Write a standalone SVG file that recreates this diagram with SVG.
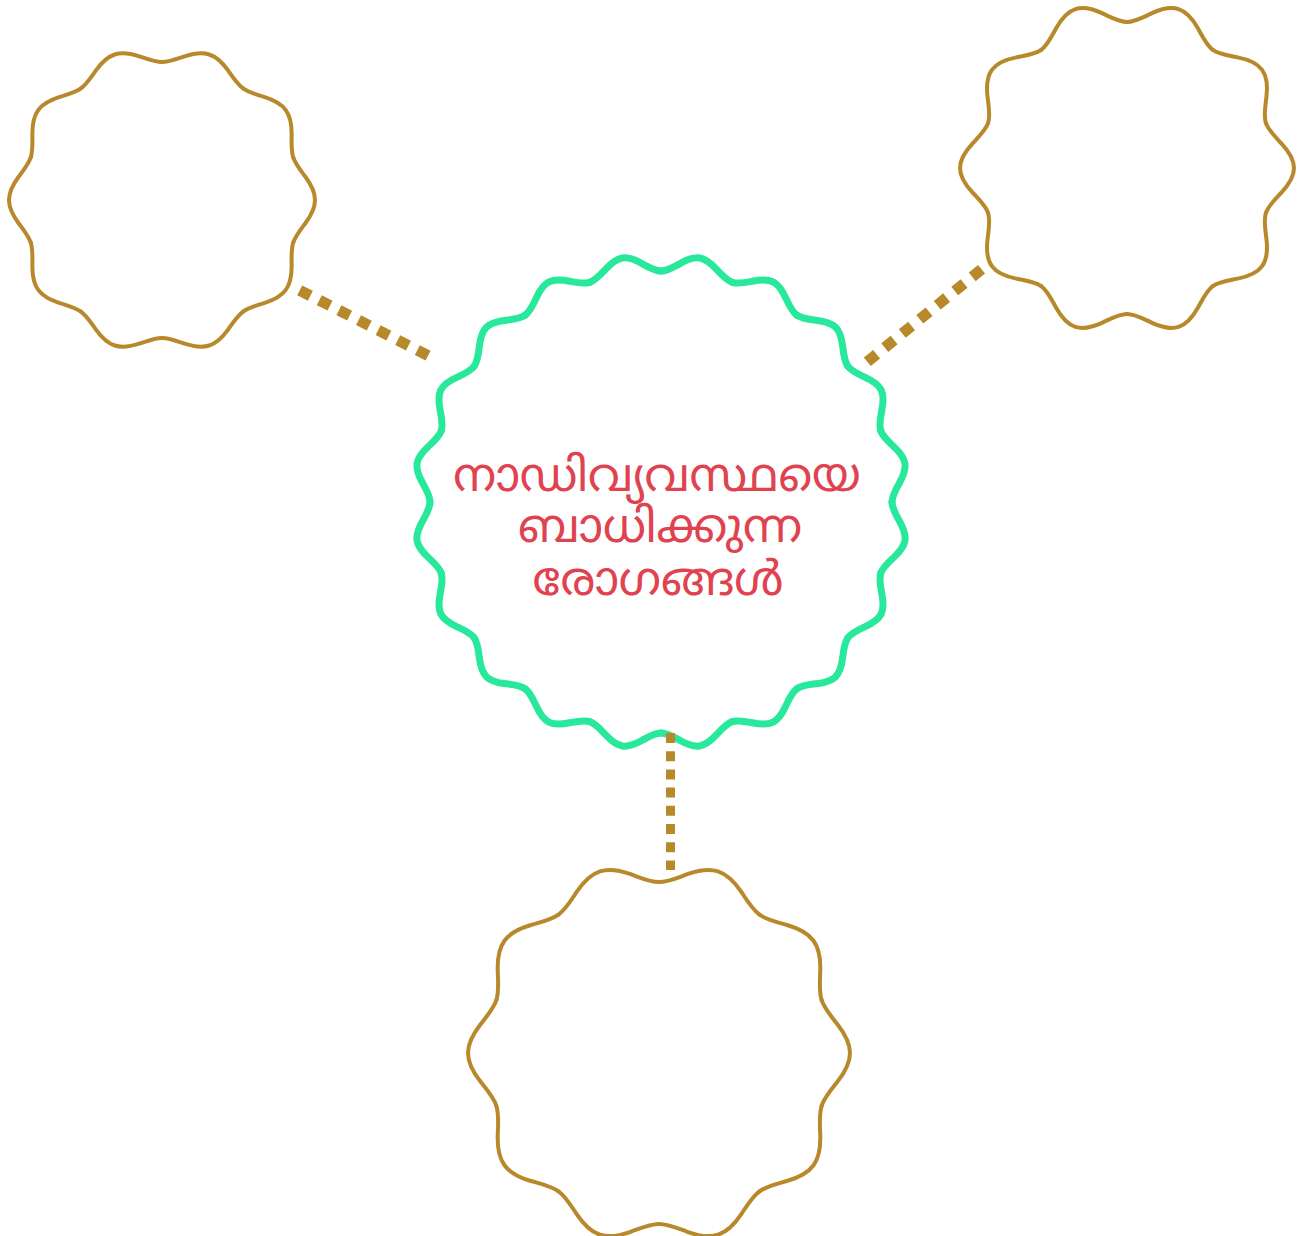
<svg xmlns="http://www.w3.org/2000/svg" width="1302" height="1236" viewBox="0 0 1302 1236">
<style>
.brown{fill:none;stroke:#b8892b;stroke-width:4;stroke-linecap:round;stroke-linejoin:round}
.green{fill:none;stroke:#27e89b;stroke-width:7;stroke-linecap:round;stroke-linejoin:round}
.conn{fill:none;stroke:#b8892b}
.label{font-family:"Noto Sans Malayalam","Noto Sans",sans-serif;font-size:47px;fill:#e0434f;text-anchor:middle}
</style>
<defs>
<path id="lobe-tl" d="M131.25,-42.64 C133.48,-35.77 138.64,-29.67 143.71,-22.76 C148.78,-15.85 153,-8.01 153,0 C153,8.01 148.78,15.85 143.71,22.76 C138.64,29.67 133.48,35.77 131.25,42.64"/>
<path id="lobe-tr" d="M138.86,-45.11 C141.22,-37.84 147.86,-31.71 154.57,-24.48 C161.28,-17.25 167,-8.74 167,0 C167,8.74 161.28,17.25 154.57,24.48 C147.86,31.71 141.22,37.84 138.86,45.11"/>
<path id="lobe-b" d="M162.64,-52.84 C165.41,-44.32 172.12,-36.85 178.77,-28.31 C185.42,-19.77 191,-10 191,0 C191,10 185.42,19.77 178.77,28.31 C172.12,36.85 165.41,44.32 162.64,52.84"/>
<path id="lobe-c" d="M228.16,-36.14 C229.11,-30.17 233.59,-24.66 238.26,-18.75 C242.93,-12.84 247,-6.466 247,0 C247,6.466 242.93,12.84 238.26,18.75 C233.59,24.66 229.11,30.17 228.16,36.14"/>
</defs>
<rect width="1302" height="1236" fill="#ffffff"/>

<g id="node-top-left" class="brown" transform="translate(162 200)">
<use href="#lobe-tl"/><use href="#lobe-tl" transform="rotate(36)"/><use href="#lobe-tl" transform="rotate(72)"/><use href="#lobe-tl" transform="rotate(108)"/><use href="#lobe-tl" transform="rotate(144)"/><use href="#lobe-tl" transform="rotate(180)"/><use href="#lobe-tl" transform="rotate(216)"/><use href="#lobe-tl" transform="rotate(252)"/><use href="#lobe-tl" transform="rotate(288)"/><use href="#lobe-tl" transform="rotate(324)"/>
</g>

<g id="node-top-right" class="brown" transform="translate(1127 168)">
<use href="#lobe-tr"/><use href="#lobe-tr" transform="rotate(36)"/><use href="#lobe-tr" transform="rotate(72)"/><use href="#lobe-tr" transform="rotate(108)"/><use href="#lobe-tr" transform="rotate(144)"/><use href="#lobe-tr" transform="rotate(180)"/><use href="#lobe-tr" transform="rotate(216)"/><use href="#lobe-tr" transform="rotate(252)"/><use href="#lobe-tr" transform="rotate(288)"/><use href="#lobe-tr" transform="rotate(324)"/>
</g>

<g id="node-bottom" class="brown" transform="translate(659 1053)">
<use href="#lobe-b"/><use href="#lobe-b" transform="rotate(36)"/><use href="#lobe-b" transform="rotate(72)"/><use href="#lobe-b" transform="rotate(108)"/><use href="#lobe-b" transform="rotate(144)"/><use href="#lobe-b" transform="rotate(180)"/><use href="#lobe-b" transform="rotate(216)"/><use href="#lobe-b" transform="rotate(252)"/><use href="#lobe-b" transform="rotate(288)"/><use href="#lobe-b" transform="rotate(324)"/>
</g>

<g id="node-center">
<g class="green" transform="translate(661 502)">
<use href="#lobe-c" transform="rotate(9)"/><use href="#lobe-c" transform="rotate(27)"/><use href="#lobe-c" transform="rotate(45)"/><use href="#lobe-c" transform="rotate(63)"/><use href="#lobe-c" transform="rotate(81)"/><use href="#lobe-c" transform="rotate(99)"/><use href="#lobe-c" transform="rotate(117)"/><use href="#lobe-c" transform="rotate(135)"/><use href="#lobe-c" transform="rotate(153)"/><use href="#lobe-c" transform="rotate(171)"/><use href="#lobe-c" transform="rotate(189)"/><use href="#lobe-c" transform="rotate(207)"/><use href="#lobe-c" transform="rotate(225)"/><use href="#lobe-c" transform="rotate(243)"/><use href="#lobe-c" transform="rotate(261)"/><use href="#lobe-c" transform="rotate(279)"/><use href="#lobe-c" transform="rotate(297)"/><use href="#lobe-c" transform="rotate(315)"/><use href="#lobe-c" transform="rotate(333)"/><use href="#lobe-c" transform="rotate(351)"/>
</g>
<text class="label"><tspan x="657" y="491">നാഡിവ്യവസ്ഥയെ</tspan><tspan x="660" y="542">ബാധിക്കുന്ന</tspan><tspan x="658" y="595">രോഗങ്ങൾ</tspan></text>
</g>

<g id="connectors" class="conn">
<path d="M299.7,290.3 L428.3,355.7" stroke-width="11" stroke-dasharray="12 10"/>
<path d="M867.3,361.8 L981.7,269.2" stroke-width="11" stroke-dasharray="12 10.5"/>
<path d="M670.5,733 L670.5,870" stroke-width="9" stroke-dasharray="10 8.2"/>
</g>
</svg>
